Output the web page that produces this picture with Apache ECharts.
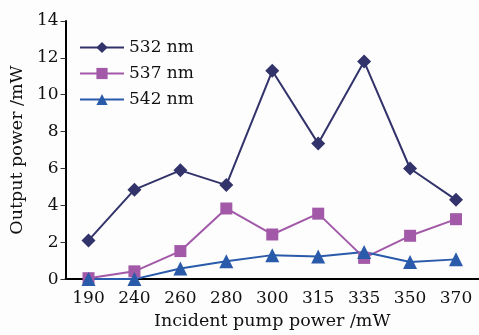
<!DOCTYPE html>
<html><head><meta charset="utf-8">
<script src="https://cdn.jsdelivr.net/npm/echarts@6/dist/echarts.min.js"></script>
<style>html,body{margin:0;padding:0;background:#fdfdfd;}#c{width:479px;height:335px;}</style>
</head><body><div id="c"></div>
<script>
var categories = ['190','240','260','280','300','315','335','350','370'];
var s532 = [2.1, 4.85, 5.9, 5.1, 11.3, 7.35, 11.8, 6.0, 4.3];
var s537 = [0.05, 0.42, 1.52, 3.83, 2.42, 3.55, 1.15, 2.35, 3.25];
var s542 = [0, 0, 0.58, 0.97, 1.3, 1.22, 1.47, 0.93, 1.07];
var yTicks = [0, 2, 4, 6, 8, 10, 12, 14];
var font = 'DejaVu Serif';
var chart = echarts.init(document.getElementById('c'));
chart.setOption({
  backgroundColor: '#fdfdfd',
  animation: false,
  textStyle: {fontFamily: font},
  grid: {left: 62, right: -2, top: 21, bottom: 51, containLabel: false},
  legend: {
    orient: 'vertical', left: 74, top: 34, itemWidth: 44, itemHeight: 14, itemGap: 9,
    textStyle: {fontFamily: font, fontSize: 17, color: '#111'},
    data: ['532 nm', '537 nm', '542 nm']
  },
  xAxis: {
    type: 'category', data: categories, boundaryGap: true,
    name: 'Incident pump power /mW', nameLocation: 'middle', nameGap: 31,
    nameTextStyle: {fontFamily: font, fontSize: 17.5, color: '#111'},
    axisLine: {lineStyle: {color: '#000', width: 2}},
    axisTick: {inside: true, length: 5, lineStyle: {color: '#333'}},
    axisLabel: {fontFamily: font, fontSize: 17, color: '#111', margin: 11}
  },
  yAxis: {
    type: 'value', min: yTicks[0], max: yTicks[yTicks.length-1], interval: 2,
    name: 'Output power /mW', nameLocation: 'middle', nameGap: 31,
    nameTextStyle: {fontFamily: font, fontSize: 17.5, color: '#111'},
    splitLine: {show: false},
    axisLine: {show: true, lineStyle: {color: '#000', width: 2}},
    axisTick: {show: true, length: 5, lineStyle: {color: '#333'}},
    axisLabel: {fontFamily: font, fontSize: 17, color: '#111', margin: 7}
  },
  series: [
    {name: '532 nm', type: 'line', data: s532, symbol: 'diamond', symbolSize: 14,
     color: '#33336b', lineStyle: {width: 2}},
    {name: '537 nm', type: 'line', data: s537, symbol: 'rect', symbolSize: 12,
     color: '#a259a8', lineStyle: {width: 2}},
    {name: '542 nm', type: 'line', data: s542, symbol: 'triangle', symbolSize: 14,
     color: '#2a5aaa', lineStyle: {width: 2}}
  ]
});
</script></body></html>
